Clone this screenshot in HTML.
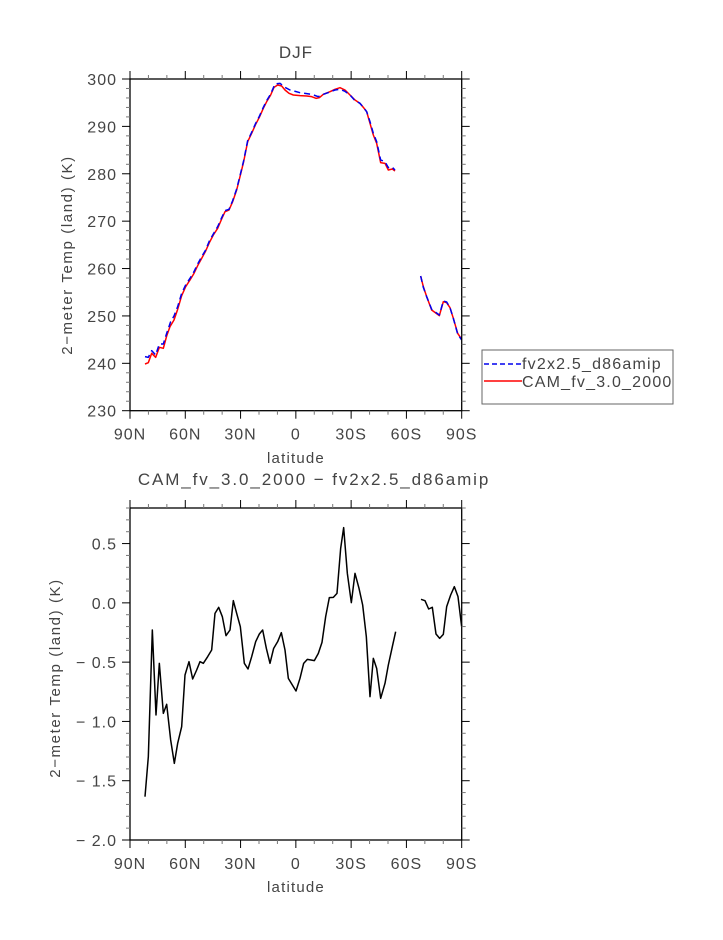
<!DOCTYPE html>
<html><head><meta charset="utf-8"><style>
html,body{margin:0;padding:0;background:#fff;}
svg text{font-family:"Liberation Sans",sans-serif;fill:#444;}
</style></head><body>
<svg id="s" width="723" height="935" viewBox="0 0 723 935" xmlns="http://www.w3.org/2000/svg">
<text x="296" y="58" font-size="17" letter-spacing="1" text-anchor="middle">DJF</text>
<text x="314" y="485" font-size="17" letter-spacing="1.9" text-anchor="middle">CAM_fv_3.0_2000 − fv2x2.5_d86amip</text>
<text x="296" y="463" font-size="15" letter-spacing="1.2" text-anchor="middle">latitude</text>
<text x="296" y="892" font-size="15" letter-spacing="1.2" text-anchor="middle">latitude</text>
<text transform="translate(72,255) rotate(-90)" font-size="15" letter-spacing="1.6" text-anchor="middle">2−meter Temp (land) (K)</text>
<text transform="translate(60,678) rotate(-90)" font-size="15" letter-spacing="1.6" text-anchor="middle">2−meter Temp (land) (K)</text>
<g transform="translate(100,30) scale(0.33333)" fill="none" stroke-linejoin="round">
<polyline vector-effect="non-scaling-stroke" stroke="#ff0000" stroke-width="1.5" points="135,1002 145,998 155,970 167,982 178,952 190,955 200,918 210,890 222,870 233,838 245,797 257,770 270,750 282,730 293,707 305,685 317,663 328,638 340,615 353,595 365,567 375,545 387,540 398,515 410,480 420,440 431,395 443,335 455,310 467,283 478,262 490,235 500,215 512,195 522,172 533,165 545,168 555,180 567,190 580,195 600,197 620,198 635,200 648,205 658,203 670,193 690,185 705,178 720,173 735,180 750,195 765,210 780,220 790,232 800,245 810,280 820,315 830,340 842,398 855,400 865,420 877,417 885,423"/>
<polyline vector-effect="non-scaling-stroke" stroke="#ff0000" stroke-width="1.5" points="962,738 970,770 980,800 995,840 1018,857 1030,815 1040,818 1050,833 1060,865 1073,910 1085,928"/>
<polyline vector-effect="non-scaling-stroke" stroke="#0000ee" stroke-width="1.5" stroke-dasharray="6,4" points="135,980 145,982 155,962 167,975 178,942 190,942 200,910 212,875 222,858 233,830 245,790 257,765 270,745 282,725 293,702 305,680 317,660 328,633 340,612 353,590 365,563 375,542 387,538 398,512 410,477 420,437 431,392 443,332 455,307 467,280 478,259 490,232 500,212 512,192 525,162 540,160 555,172 570,180 600,188 635,193 655,200 670,193 690,186 705,180 720,178 735,184 750,195 765,212 780,220 790,232 800,245 810,275 820,310 830,335 842,390 855,395 865,413 875,410 885,420"/>
<polyline vector-effect="non-scaling-stroke" stroke="#0000ee" stroke-width="1.5" stroke-dasharray="6,4" points="962,738 970,772 980,800 995,838 1018,855 1030,813 1040,816 1050,833 1060,865 1073,912 1085,930"/>
</g>
<g transform="translate(60,490) scale(0.33333)" fill="none" stroke="#000" stroke-linejoin="round">
<polyline vector-effect="non-scaling-stroke" stroke-width="1.5" points="255,920 265,800 277,420 288,675 298,520 310,670 320,643 332,750 343,820 353,760 365,710 375,555 387,515 398,567 410,540 420,515 430,520 443,500 455,480 465,370 476,352 487,380 498,437 510,420 520,332 530,370 541,410 553,520 564,537 575,500 587,455 598,432 608,420 619,475 630,520 641,475 653,455 664,428 675,480 685,565 697,585 708,603 720,565 731,520 742,508 753,510 763,512 775,490 786,457 797,380 808,323 820,322 831,310 842,175 851,113 862,250 874,338 885,250 897,295 908,345 919,440 930,620 940,505 950,535 962,625 975,580 985,525 997,470 1007,425"/>
<polyline vector-effect="non-scaling-stroke" stroke-width="1.5" points="1083,328 1095,332 1106,357 1117,352 1128,432 1139,445 1150,433 1160,350 1172,315 1183,290 1194,320 1205,410"/>
</g>
<rect x="482" y="350" width="191" height="54" fill="none" stroke="#666" stroke-width="1"/>
<line x1="484" y1="364" x2="522" y2="364" stroke="#0000ee" stroke-width="1.5" stroke-dasharray="5,3"/>
<line x1="484" y1="381" x2="522" y2="381" stroke="#ff0000" stroke-width="1.5"/>
<text x="522" y="369" font-size="16" letter-spacing="1.2">fv2x2.5_d86amip</text>
<text x="522" y="387" font-size="16" letter-spacing="1.2">CAM_fv_3.0_2000</text>
</svg>
<script>
const s=document.getElementById('s'),NS='http://www.w3.org/2000/svg';
function el(t,a,txt){const e=document.createElementNS(NS,t);for(const k in a)e.setAttribute(k,a[k]);if(txt!==undefined)e.textContent=txt;s.appendChild(e);}
function ln(x1,y1,x2,y2,c,w){el('line',{x1,y1,x2,y2,stroke:c||'#000','stroke-width':w||1});}
const L=130,R=461.7,xl=['90N','60N','30N','0','30S','60S','90S'];
function panel(T,B,ymin,ymax,maj,mnr,fmt){
 el('rect',{x:L,y:T,width:R-L,height:B-T,fill:'none',stroke:'#000','stroke-width':1.3});
 for(let i=0;i<=18;i++){const x=L+(R-L)*i/18,m=i%3==0,len=m?8:4,c=m?'#000':'#777';
  ln(x,T,x,T-len,c);ln(x,B,x,B+len,c);
  if(m)el('text',{x:x,y:B+29,'font-size':16,'letter-spacing':1,'text-anchor':'middle'},xl[i/3]);}
 const n=Math.round((ymax-ymin)/mnr);
 for(let i=0;i<=n;i++){const v=ymin+i*mnr,y=B-(B-T)*i/n,m=Math.abs(v/maj-Math.round(v/maj))<1e-6,len=m?8:4,c=m?'#000':'#777';
  ln(L,y,L-len,y,c);ln(R,y,R+len,y,c);
  if(m)el('text',{x:L-13,y:y+6,'font-size':16,'letter-spacing':1,'text-anchor':'end'},fmt(v));}
}
panel(79,410.7,230,300,10,2,v=>Math.round(v)+'');
panel(508,840,-2,0.8,0.5,0.1,v=>{v=Math.round(v*10)/10;return (v<0?'− ':'')+Math.abs(v).toFixed(1);});
</script>
</body></html>
